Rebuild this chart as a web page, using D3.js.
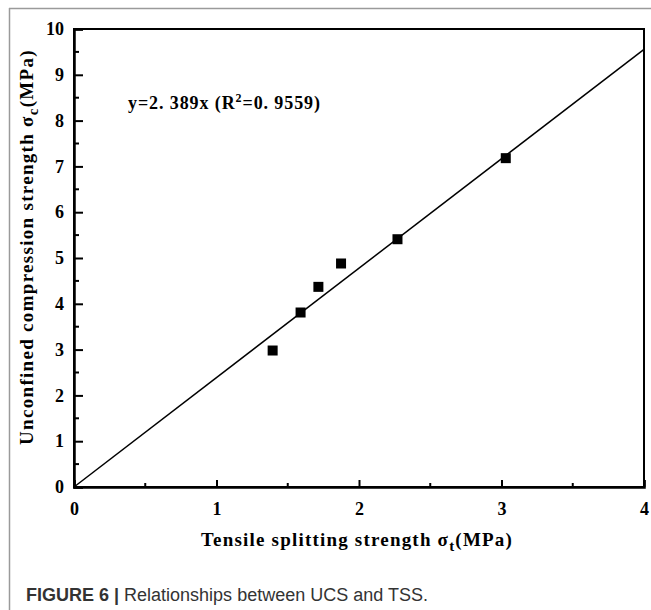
<!DOCTYPE html>
<html>
<head>
<meta charset="utf-8">
<script src="https://cdn.jsdelivr.net/npm/d3@7"></script>
<style>
  html, body { margin: 0; padding: 0; background: #fff; }
  svg { display: block; }
</style>
</head>
<body>
<script>
// ---- data ----
const tssValues = [1.394, 1.59, 1.715, 1.874, 2.27, 3.03];
const ucsValues = [2.98, 3.81, 4.37, 4.88, 5.41, 7.18];
const fitSlope = 2.389;
const xTickValues = [0, 1, 2, 3, 4];
const yTickValues = [0, 1, 2, 3, 4, 5, 6, 7, 8, 9, 10];
const xMinorTicks = [0.5, 1.5, 2.5, 3.5];
const yMinorTicks = [0.5, 1.5, 2.5, 3.5, 4.5, 5.5, 6.5, 7.5, 8.5, 9.5];

(function () {
const W = 651, H = 610;
const svg = d3.select("body").append("svg").attr("width", W).attr("height", H);

// panel border (top & left)
svg.append("line").attr("x1", 9).attr("y1", 8.5).attr("x2", W).attr("y2", 8.5)
  .attr("stroke", "#9a9a9a").attr("stroke-width", 1.5);
svg.append("line").attr("x1", 9.5).attr("y1", 8).attr("x2", 9.5).attr("y2", H)
  .attr("stroke", "#9a9a9a").attr("stroke-width", 1.5);

const pL = 74, pR = 644, pT = 29, pB = 487;
const x = d3.scaleLinear().domain([0, 4]).range([pL, pR]);
const y = d3.scaleLinear().domain([0, 10]).range([pB, pT]);

const serif = "'Liberation Serif', 'Times New Roman', serif";

// frame
svg.append("rect").attr("x", pL).attr("y", pT)
  .attr("width", pR - pL).attr("height", pB - pT)
  .attr("fill", "none").attr("stroke", "#000").attr("stroke-width", 2);

// axes via d3
const xAxis = svg.append("g").attr("transform", `translate(0,${pB})`)
  .call(d3.axisBottom(x).tickValues(xTickValues).tickSize(-7).tickPadding(14).tickFormat(d3.format("d")));
const yAxis = svg.append("g").attr("transform", `translate(${pL},0)`)
  .call(d3.axisLeft(y).tickValues(yTickValues).tickSize(-9).tickPadding(10).tickFormat(d3.format("d")));
[xAxis, yAxis].forEach(g => {
  g.select(".domain").attr("stroke", "#000").attr("stroke-width", 2.5);
  g.selectAll(".tick line").attr("stroke", "#000").attr("stroke-width", 2);
  g.selectAll(".tick text").attr("font-family", serif).attr("font-weight", "bold")
    .attr("font-size", 18).attr("fill", "#000");
});
xAxis.selectAll(".tick text").attr("dy", "0.71em").attr("y", 15);
// minor ticks
svg.append("g").selectAll("line").data(xMinorTicks).join("line")
  .attr("x1", d => x(d)).attr("x2", d => x(d)).attr("y1", pB).attr("y2", pB - 4)
  .attr("stroke", "#000").attr("stroke-width", 2);
svg.append("g").selectAll("line").data(yMinorTicks).join("line")
  .attr("y1", d => y(d)).attr("y2", d => y(d)).attr("x1", pL).attr("x2", pL + 5)
  .attr("stroke", "#000").attr("stroke-width", 2);

// fit line
svg.append("line")
  .attr("x1", x(0)).attr("y1", y(0)).attr("x2", x(4)).attr("y2", y(fitSlope * 4))
  .attr("stroke", "#000").attr("stroke-width", 1.5);

// points
const pts = tssValues.map((v, i) => ({ x: v, y: ucsValues[i] }));
svg.append("g").selectAll("rect").data(pts).join("rect")
  .attr("x", d => x(d.x) - 5).attr("y", d => y(d.y) - 5)
  .attr("width", 10).attr("height", 10).attr("fill", "#000");

// equation
const eq = svg.append("text").attr("x", 128).attr("y", 109)
  .attr("font-family", serif).attr("font-weight", "bold").attr("font-size", 18)
  .attr("letter-spacing", 0.9).attr("fill", "#000");
eq.append("tspan").text("y=2. 389x (R");
eq.append("tspan").attr("dy", -7).attr("font-size", 12).text("2");
eq.append("tspan").attr("dy", 7).text("=0. 9559)");

// x axis title
const xt = svg.append("text").attr("x", 357).attr("y", 546).attr("text-anchor", "middle")
  .attr("font-family", serif).attr("font-weight", "bold").attr("font-size", 19)
  .attr("letter-spacing", 1.2).attr("fill", "#000");
xt.append("tspan").text("Tensile splitting strength σ");
xt.append("tspan").attr("dy", 5).attr("font-size", 15).text("t");
xt.append("tspan").attr("dy", -5).text("(MPa)");

// y axis title
const yt = svg.append("text").attr("transform", `translate(33,247) rotate(-90)`)
  .attr("text-anchor", "middle")
  .attr("font-family", serif).attr("font-weight", "bold").attr("font-size", 19)
  .attr("letter-spacing", 1.3).attr("fill", "#000");
yt.append("tspan").text("Unconfined compression strength σ");
yt.append("tspan").attr("dy", 5).attr("font-size", 15).text("c");
yt.append("tspan").attr("dy", -5).text("(MPa)");

// caption
const cap = svg.append("text").attr("x", 26).attr("y", 601)
  .attr("font-family", "'Liberation Sans', Arial, sans-serif").attr("font-size", 18).attr("fill", "#333");
cap.append("tspan").attr("font-weight", "bold").text("FIGURE 6 | ");
cap.append("tspan").text("Relationships between UCS and TSS.");
})();
</script>
</body>
</html>
